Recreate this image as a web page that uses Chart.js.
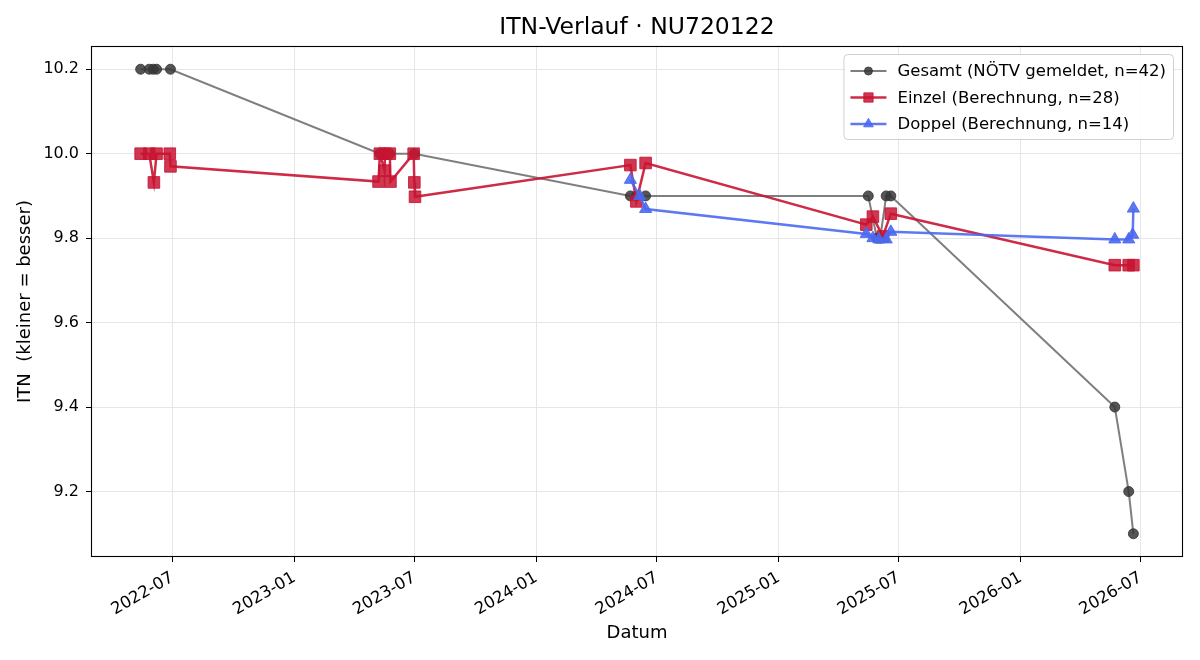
<!DOCTYPE html>
<html>
<head>
<meta charset="utf-8">
<title>ITN-Verlauf</title>
<script src="https://cdn.jsdelivr.net/npm/chart.js@4.4.1/dist/chart.umd.min.js"></script>
<style>
  html,body{margin:0;padding:0;background:#fff}
  #wrap{width:1200px;height:660px}
</style>
</head>
<body>
<div id="wrap"><canvas id="chart" width="1200" height="660"></canvas></div>
<script>
// values
const chartTitle = 'ITN-Verlauf · NU720122'
const seriesLabels = ['Gesamt (NÖTV gemeldet, n=42)', 'Einzel (Berechnung, n=28)', 'Doppel (Berechnung, n=14)']

const gesamtDates = ['2022-05-14','2022-05-27','2022-06-02','2022-06-07','2022-06-28',
  '2023-05-10','2023-05-17','2023-05-25','2023-07-01',
  '2024-05-22','2024-05-31','2024-06-14',
  '2025-05-16','2025-05-29','2025-06-03','2025-06-12','2025-06-19',
  '2026-05-23','2026-06-13','2026-06-20']
const gesamtITN = [10.2,10.2,10.2,10.2,10.2,
  10.0,10.0,10.0,10.0,
  9.9,9.9,9.9,
  9.9,9.8,9.8,9.9,9.9,
  9.4,9.2,9.1]

const einzelDates = ['2022-05-14','2022-05-27','2022-06-03','2022-06-07','2022-06-27','2022-06-28',
  '2023-05-08','2023-05-10','2023-05-17','2023-05-18','2023-05-25','2023-05-26','2023-06-30','2023-07-01','2023-07-02',
  '2024-05-22','2024-05-31','2024-06-14',
  '2025-05-13','2025-05-23','2025-06-07','2025-06-19',
  '2026-05-23','2026-06-13','2026-06-20']
const einzelITN = [10.0,10.0,9.932,10.0,10.0,9.97,
  9.934,10.0,9.96,10.0,10.0,9.934,10.0,9.932,9.898,
  9.973,9.887,9.978,
  9.832,9.851,9.804,9.858,
  9.736,9.736,9.736]

const doppelDates = ['2024-05-22','2024-06-05','2024-06-14',
  '2025-05-13','2025-05-23','2025-06-01','2025-06-12','2025-06-19',
  '2026-05-23','2026-06-13','2026-06-19','2026-06-20']
const doppelITN = [9.938,9.90,9.869,
  9.810,9.800,9.797,9.797,9.815,
  9.797,9.797,9.808,9.870]

const xTickLabels = ['2022-07','2023-01','2023-07','2024-01','2024-07','2025-01','2025-07','2026-01','2026-07']
const yTickValues = [9.2,9.4,9.6,9.8,10.0,10.2]

function toPoints(dates, vals){ return dates.map((d,i)=>({x: Date.parse(d+'T00:00:00Z'), y: vals[i]})) }
const xTickValues = xTickLabels.map(l=>Date.parse(l+'-01T00:00:00Z'))

const allX = [].concat(gesamtDates, einzelDates, doppelDates).map(d=>Date.parse(d+'T00:00:00Z'))
const allY = [].concat(gesamtITN, einzelITN, doppelITN)
const xMinD = Math.min(...allX), xMaxD = Math.max(...allX)
const yMinD = Math.min(...allY), yMaxD = Math.max(...allY)
const xPad = (xMaxD-xMinD)*0.05, yPad = (yMaxD-yMinD)*0.05

const FONT = "'DejaVu Sans', sans-serif"

// box round the axes + title centred on the plot area
const framePlugin = {
  id:'frame',
  afterDatasetsDraw(chart){
    const {ctx, chartArea:a} = chart
    ctx.save()
    ctx.strokeStyle='#000'; ctx.lineWidth=1.1
    ctx.strokeRect(a.left+0.5, a.top+0.5, a.right-a.left-1, a.bottom-a.top-1)
    ctx.restore()
  },
  afterDraw(chart){
    const {ctx, chartArea:a} = chart
    ctx.save()
    ctx.fillStyle='#000'; ctx.font='23.5px '+FONT
    ctx.textAlign='center'; ctx.textBaseline='middle'
    ctx.fillText(chartTitle, (a.left+a.right)/2, 28)
    ctx.restore()
  }
}

// matplotlib-like legend in the upper right corner
const legendPlugin = {
  id:'mplLegend',
  afterDraw(chart){
    const {ctx, chartArea:a} = chart
    const ds = chart.data.datasets
    ctx.save()
    ctx.font='16.5px '+FONT
    const tw = Math.max(...ds.map(d=>ctx.measureText(d.label).width))
    const rowH = 26.5, handle = 36
    const w = 7 + handle + 11 + tw + 7
    const h = 17 + rowH*(ds.length-1) + 15
    const x0 = a.right - 10 - w, y0 = a.top + 8
    ctx.fillStyle='rgba(255,255,255,0.85)'; ctx.strokeStyle='#d0d0d0'; ctx.lineWidth=1
    ctx.beginPath(); ctx.roundRect(x0+0.5, y0+0.5, w, h, 4); ctx.fill(); ctx.stroke()
    ds.forEach((d,i)=>{
      const cy = y0 + 17 + rowH*i
      const hx = x0 + 7
      ctx.strokeStyle=d.borderColor; ctx.lineWidth=d.borderWidth
      ctx.beginPath(); ctx.moveTo(hx, cy); ctx.lineTo(hx+handle, cy); ctx.stroke()
      ctx.fillStyle=d.pointBackgroundColor; ctx.strokeStyle=d.pointBorderColor; ctx.lineWidth=1
      Chart.helpers.drawPoint(ctx, {pointStyle:d.pointStyle, radius:d.pointRadius*0.8, borderWidth:1}, hx+handle/2, cy)
      ctx.fillStyle='#000'; ctx.textAlign='left'; ctx.textBaseline='middle'
      ctx.fillText(d.label, hx+handle+11, cy+1)
    })
    ctx.restore()
  }
}

new Chart(document.getElementById('chart'), {
  type:'line',
  data:{
    datasets:[
      {label:seriesLabels[0], data:toPoints(gesamtDates, gesamtITN), order:3,
        borderColor:'rgba(105,105,105,0.85)', borderWidth:2,
        pointStyle:'circle', pointRadius:5, pointBackgroundColor:'rgba(55,55,55,0.85)', pointBorderColor:'rgba(55,55,55,0.85)', pointBorderWidth:1},
      {label:seriesLabels[1], data:toPoints(einzelDates, einzelITN), order:2,
        borderColor:'rgba(200,20,50,0.9)', borderWidth:2.5,
        pointStyle:'rect', pointRadius:8.2, pointBackgroundColor:'rgba(200,20,50,0.85)', pointBorderColor:'rgba(200,20,50,0.85)', pointBorderWidth:1},
      {label:seriesLabels[2], data:toPoints(doppelDates, doppelITN), order:1,
        borderColor:'rgba(75,105,240,0.9)', borderWidth:2.5,
        pointStyle:'triangle', pointRadius:7, pointBackgroundColor:'rgba(75,105,240,0.9)', pointBorderColor:'rgba(75,105,240,0.9)', pointBorderWidth:1}
    ]
  },
  options:{
    responsive:false, animation:false, devicePixelRatio:1,
    layout:{padding:{top:46, right:17, left:0, bottom:0}},
    elements:{line:{tension:0}},
    plugins:{legend:{display:false}, title:{display:false}, tooltip:{enabled:false}},
    scales:{
      x:{
        type:'linear', position:'bottom',
        min:xMinD-xPad, max:xMaxD+xPad,
        afterBuildTicks:s=>{ s.ticks = xTickValues.map(v=>({value:v})) },
        afterFit:s=>{ s.height = 103 },
        ticks:{autoSkip:false, maxRotation:30, minRotation:30, padding:6, color:'#000',
          font:{family:FONT, size:16.5},
          callback:v=>{ const i = xTickValues.indexOf(v); return i>=0 ? xTickLabels[i] : '' }},
        grid:{color:'#e6e6e6', lineWidth:1, tickColor:'#000', tickLength:5, tickWidth:1},
        border:{display:false},
        title:{display:true, text:'Datum', color:'#000', font:{family:FONT, size:18}, padding:{top:0, bottom:16}}
      },
      y:{
        type:'linear',
        min:yMinD-yPad, max:yMaxD+yPad,
        afterBuildTicks:s=>{ s.ticks = yTickValues.map(v=>({value:v})) },
        afterFit:s=>{ s.width = 91 },
        ticks:{padding:7, color:'#000', font:{family:FONT, size:16}, callback:v=>v.toFixed(1)},
        grid:{color:'#e6e6e6', lineWidth:1, tickColor:'#000', tickLength:5, tickWidth:1},
        border:{display:false},
        title:{display:true, text:'ITN  (kleiner = besser)', color:'#000', font:{family:FONT, size:18}, padding:{top:15, bottom:0}}
      }
    }
  },
  plugins:[framePlugin, legendPlugin]
})
</script>
</body>
</html>
